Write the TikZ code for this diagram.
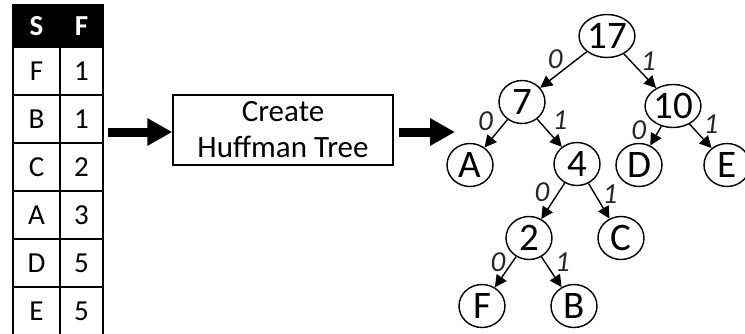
\documentclass[tikz,border=0pt]{standalone}
\usepackage{fontspec}
\setmainfont{Carlito}
\usetikzlibrary{positioning,arrows.meta,shapes.geometric}
\tikzset{
  cell/.style={draw=black,line width=1.4pt,minimum height=48pt,inner sep=0pt,outer sep=0pt,
    font=\fontsize{29}{30}\selectfont},
  headcell/.style={cell,fill=black,text=white,minimum height=42pt,
    font=\fontsize{29}{30}\selectfont\bfseries},
  procbox/.style={draw=black,line width=1.4pt,minimum width=220pt,minimum height=70pt,
    align=center,inner sep=0pt,font=\fontsize{31}{36}\selectfont},
  bigarrow/.style={-{Triangle[length=25pt,width=26pt]},line width=9pt},
  tnode/.style={ellipse,draw=black,line width=1.4pt,minimum width=46pt,minimum height=43pt,
    inner sep=0pt,font=\fontsize{39}{39}\selectfont},
  edge/.style={-{Triangle[length=12pt,width=12pt]},line width=1.4pt},
  lbl/.style={inner sep=1pt,text=black!85,font=\fontsize{29}{29}\selectfont\itshape}
}
\begin{document}
\begin{tikzpicture}[x=1pt,y=-1pt]
  \useasboundingbox (0,0) rectangle (745,333);
  % frequency table
  \node[headcell,minimum width=47pt,anchor=north west] (hS) at (13,5) {S};
  \node[headcell,minimum width=43pt,right=0pt of hS] (hF) {F};
  \node[cell,minimum width=47pt,below=0pt of hS] (sF) {F};
  \node[cell,minimum width=43pt,right=0pt of sF] (fF) {1};
  \node[cell,minimum width=47pt,below=0pt of sF] (sB) {B};
  \node[cell,minimum width=43pt,right=0pt of sB] (fB) {1};
  \node[cell,minimum width=47pt,below=0pt of sB] (sC) {C};
  \node[cell,minimum width=43pt,right=0pt of sC] (fC) {2};
  \node[cell,minimum width=47pt,below=0pt of sC] (sA) {A};
  \node[cell,minimum width=43pt,right=0pt of sA] (fA) {3};
  \node[cell,minimum width=47pt,below=0pt of sA] (sD) {D};
  \node[cell,minimum width=43pt,right=0pt of sD] (fD) {5};
  \node[cell,minimum width=47pt,below=0pt of sD] (sE) {E};
  \node[cell,minimum width=43pt,right=0pt of sE] (fE) {5};

  % process box
  \node[procbox] (create) at (283,130) {Create\\Huffman Tree};
  \coordinate (tblout) at (108,132);
  \coordinate (treein) at (455,132);
  \draw[bigarrow] (tblout) -- (tblout -| create.west);
  \draw[bigarrow] ([xshift=5pt]create.east |- treein) -- (treein);

  % huffman tree
  \node[tnode] (n17) at (607,36) {17};
  \node[tnode] (n7) at (522,102) {7};
  \node[tnode] (n10) at (673,106) {10};
  \node[tnode] (nA) at (470,165) {A};
  \node[tnode] (n4) at (577,164) {4};
  \node[tnode] (nD) at (639,165) {D};
  \node[tnode] (nE) at (727,165) {E};
  \node[tnode] (n2) at (529,238) {2};
  \node[tnode] (nC) at (621,238) {C};
  \node[tnode] (nF) at (482,306) {F};
  \node[tnode] (nB) at (574,306) {B};

  \draw[edge] (n17) -- node[lbl,above left=-1pt] {0} (n7);
  \draw[edge] (n17) -- node[lbl,above right=-1pt] {1} (n10);
  \draw[edge] (n7) -- node[lbl,above left=2pt] {0} (nA);
  \draw[edge] (n7) -- node[lbl,above right=2pt] {1} (n4);
  \draw[edge] (n10) -- node[lbl,pos=0.5,above left=-6pt and 8pt] {0} (nD);
  \draw[edge] (n10) -- node[lbl,above right=2pt] {1} (nE);
  \draw[edge] (n4) -- node[lbl,above left=-2pt and 2pt] {0} (n2);
  \draw[edge] (n4) -- node[lbl,above right=-4pt and 2pt] {1} (nC);
  \draw[edge] (n2) -- node[lbl,above left=-2pt] {0} (nF);
  \draw[edge] (n2) -- node[lbl,above right=-1pt and 2pt] {1} (nB);
\end{tikzpicture}
\end{document}
